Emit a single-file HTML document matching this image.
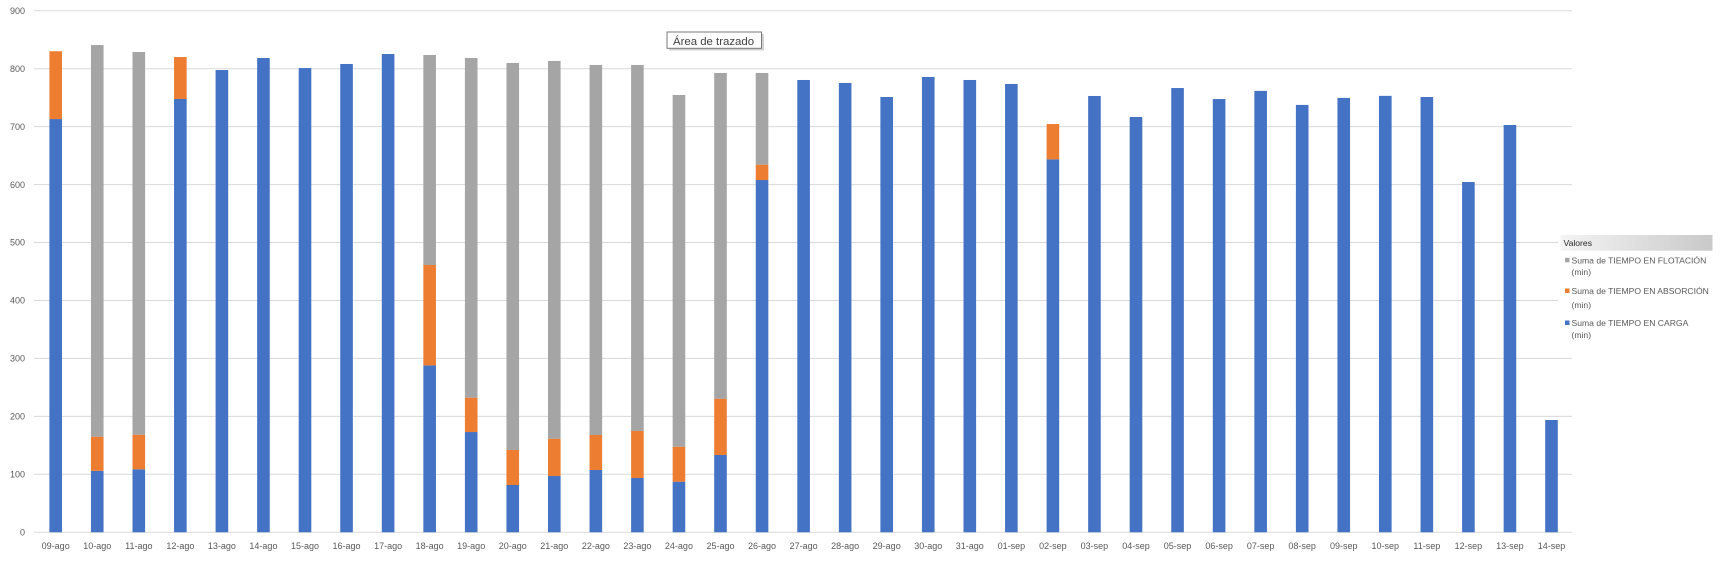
<!DOCTYPE html>
<html>
<head>
<meta charset="utf-8">
<style>
html,body{margin:0;padding:0;background:#fff;}
svg{display:block;}
text{font-family:"Liberation Sans",Arial,sans-serif;}
</style>
</head>
<body>
<svg width="1721" height="565" viewBox="0 0 1721 565" xmlns="http://www.w3.org/2000/svg">
<defs>
<linearGradient id="hdr" x1="0" y1="0" x2="1" y2="0">
<stop offset="0" stop-color="#f4f4f4"/>
<stop offset="1" stop-color="#c9c9c9"/>
</linearGradient>
</defs>
<rect width="1721" height="565" fill="#fff"/>
<!-- gridlines -->
<g stroke="#d9d9d9" stroke-width="1">
<line x1="34" x2="1572" y1="10.7" y2="10.7"/>
<line x1="34" x2="1572" y1="68.7" y2="68.7"/>
<line x1="34" x2="1572" y1="126.6" y2="126.6"/>
<line x1="34" x2="1572" y1="184.6" y2="184.6"/>
<line x1="34" x2="1572" y1="242.5" y2="242.5"/>
<line x1="34" x2="1572" y1="300.5" y2="300.5"/>
<line x1="34" x2="1572" y1="358.4" y2="358.4"/>
<line x1="34" x2="1572" y1="416.4" y2="416.4"/>
<line x1="34" x2="1572" y1="474.3" y2="474.3"/>
<line x1="34" x2="1572" y1="532.3" y2="532.3"/>
</g>
<!-- y labels -->
<g font-size="9" fill="#595959" text-anchor="end">
<text x="25" y="13.9">900</text>
<text x="25" y="71.9">800</text>
<text x="25" y="129.8">700</text>
<text x="25" y="187.8">600</text>
<text x="25" y="245.7">500</text>
<text x="25" y="303.7">400</text>
<text x="25" y="361.6">300</text>
<text x="25" y="419.6">200</text>
<text x="25" y="477.5">100</text>
<text x="25" y="535.5">0</text>
</g>
<!-- bars in data units -->
<g transform="translate(0,532.3) scale(1,-0.5796)">
<!-- 0 09-ago -->
<rect x="49.4" y="0" width="12.6" height="713" fill="#4472c4"/>
<rect x="49.4" y="713" width="12.6" height="117" fill="#ed7d31"/>
<!-- 1 10-ago -->
<rect x="90.95" y="0" width="12.6" height="106" fill="#4472c4"/>
<rect x="90.95" y="106" width="12.6" height="59" fill="#ed7d31"/>
<rect x="90.95" y="165" width="12.6" height="675.7" fill="#a5a5a5"/>
<!-- 2 11-ago -->
<rect x="132.5" y="0" width="12.6" height="108.7" fill="#4472c4"/>
<rect x="132.5" y="108.7" width="12.6" height="59.7" fill="#ed7d31"/>
<rect x="132.5" y="168.4" width="12.6" height="660.3" fill="#a5a5a5"/>
<!-- 3 12-ago -->
<rect x="174.05" y="0" width="12.6" height="747.6" fill="#4472c4"/>
<rect x="174.05" y="747.6" width="12.6" height="72.4" fill="#ed7d31"/>
<!-- 4..8 -->
<rect x="215.6" y="0" width="12.6" height="797.6" fill="#4472c4"/>
<rect x="257.15" y="0" width="12.6" height="818.3" fill="#4472c4"/>
<rect x="298.7" y="0" width="12.6" height="801" fill="#4472c4"/>
<rect x="340.25" y="0" width="12.6" height="808" fill="#4472c4"/>
<rect x="381.8" y="0" width="12.6" height="825.2" fill="#4472c4"/>
<!-- 9 18-ago -->
<rect x="423.35" y="0" width="12.6" height="288" fill="#4472c4"/>
<rect x="423.35" y="288" width="12.6" height="173.2" fill="#ed7d31"/>
<rect x="423.35" y="461.2" width="12.6" height="362.3" fill="#a5a5a5"/>
<!-- 10 19-ago -->
<rect x="464.9" y="0" width="12.6" height="173" fill="#4472c4"/>
<rect x="464.9" y="173" width="12.6" height="59.3" fill="#ed7d31"/>
<rect x="464.9" y="232.3" width="12.6" height="586" fill="#a5a5a5"/>
<!-- 11 20-ago -->
<rect x="506.45" y="0" width="12.6" height="81.6" fill="#4472c4"/>
<rect x="506.45" y="81.6" width="12.6" height="60.4" fill="#ed7d31"/>
<rect x="506.45" y="142" width="12.6" height="667.7" fill="#a5a5a5"/>
<!-- 12 21-ago -->
<rect x="548" y="0" width="12.6" height="97.1" fill="#4472c4"/>
<rect x="548" y="97.1" width="12.6" height="64.4" fill="#ed7d31"/>
<rect x="548" y="161.5" width="12.6" height="651.7" fill="#a5a5a5"/>
<!-- 13 22-ago -->
<rect x="589.55" y="0" width="12.6" height="107.5" fill="#4472c4"/>
<rect x="589.55" y="107.5" width="12.6" height="60.4" fill="#ed7d31"/>
<rect x="589.55" y="167.9" width="12.6" height="638.4" fill="#a5a5a5"/>
<!-- 14 23-ago -->
<rect x="631.1" y="0" width="12.6" height="93.7" fill="#4472c4"/>
<rect x="631.1" y="93.7" width="12.6" height="81.1" fill="#ed7d31"/>
<rect x="631.1" y="174.8" width="12.6" height="631.5" fill="#a5a5a5"/>
<!-- 15 24-ago -->
<rect x="672.65" y="0" width="12.6" height="87.3" fill="#4472c4"/>
<rect x="672.65" y="87.3" width="12.6" height="60.4" fill="#ed7d31"/>
<rect x="672.65" y="147.7" width="12.6" height="606.8" fill="#a5a5a5"/>
<!-- 16 25-ago -->
<rect x="714.2" y="0" width="12.6" height="133.4" fill="#4472c4"/>
<rect x="714.2" y="133.4" width="12.6" height="97.1" fill="#ed7d31"/>
<rect x="714.2" y="230.5" width="12.6" height="562" fill="#a5a5a5"/>
<!-- 17 26-ago -->
<rect x="755.75" y="0" width="12.6" height="607.8" fill="#4472c4"/>
<rect x="755.75" y="607.8" width="12.6" height="26.5" fill="#ed7d31"/>
<rect x="755.75" y="634.3" width="12.6" height="158.2" fill="#a5a5a5"/>
<!-- 18..23 -->
<rect x="797.3" y="0" width="12.6" height="780.4" fill="#4472c4"/>
<rect x="838.85" y="0" width="12.6" height="775.2" fill="#4472c4"/>
<rect x="880.4" y="0" width="12.6" height="751" fill="#4472c4"/>
<rect x="921.95" y="0" width="12.6" height="785.6" fill="#4472c4"/>
<rect x="963.5" y="0" width="12.6" height="780.4" fill="#4472c4"/>
<rect x="1005.05" y="0" width="12.6" height="773.5" fill="#4472c4"/>
<!-- 24 02-sep -->
<rect x="1046.6" y="0" width="12.6" height="643.5" fill="#4472c4"/>
<rect x="1046.6" y="643.5" width="12.6" height="60.9" fill="#ed7d31"/>
<!-- 25..36 -->
<rect x="1088.15" y="0" width="12.6" height="752.8" fill="#4472c4"/>
<rect x="1129.7" y="0" width="12.6" height="716.5" fill="#4472c4"/>
<rect x="1171.25" y="0" width="12.6" height="766.5" fill="#4472c4"/>
<rect x="1212.8" y="0" width="12.6" height="747.5" fill="#4472c4"/>
<rect x="1254.35" y="0" width="12.6" height="761.6" fill="#4472c4"/>
<rect x="1295.9" y="0" width="12.6" height="737.4" fill="#4472c4"/>
<rect x="1337.45" y="0" width="12.6" height="749.5" fill="#4472c4"/>
<rect x="1379" y="0" width="12.6" height="753" fill="#4472c4"/>
<rect x="1420.55" y="0" width="12.6" height="751" fill="#4472c4"/>
<rect x="1462.1" y="0" width="12.6" height="604.4" fill="#4472c4"/>
<rect x="1503.65" y="0" width="12.6" height="702.7" fill="#4472c4"/>
<rect x="1545.2" y="0" width="12.6" height="193.8" fill="#4472c4"/>
</g>
<!-- x labels -->
<g font-size="9" fill="#595959" text-anchor="middle">
<text x="55.7" y="549">09-ago</text>
<text x="97.25" y="549">10-ago</text>
<text x="138.8" y="549">11-ago</text>
<text x="180.35" y="549">12-ago</text>
<text x="221.9" y="549">13-ago</text>
<text x="263.45" y="549">14-ago</text>
<text x="305" y="549">15-ago</text>
<text x="346.55" y="549">16-ago</text>
<text x="388.1" y="549">17-ago</text>
<text x="429.65" y="549">18-ago</text>
<text x="471.2" y="549">19-ago</text>
<text x="512.75" y="549">20-ago</text>
<text x="554.3" y="549">21-ago</text>
<text x="595.85" y="549">22-ago</text>
<text x="637.4" y="549">23-ago</text>
<text x="678.95" y="549">24-ago</text>
<text x="720.5" y="549">25-ago</text>
<text x="762.05" y="549">26-ago</text>
<text x="803.6" y="549">27-ago</text>
<text x="845.15" y="549">28-ago</text>
<text x="886.7" y="549">29-ago</text>
<text x="928.25" y="549">30-ago</text>
<text x="969.8" y="549">31-ago</text>
<text x="1011.35" y="549">01-sep</text>
<text x="1052.9" y="549">02-sep</text>
<text x="1094.45" y="549">03-sep</text>
<text x="1136" y="549">04-sep</text>
<text x="1177.55" y="549">05-sep</text>
<text x="1219.1" y="549">06-sep</text>
<text x="1260.65" y="549">07-sep</text>
<text x="1302.2" y="549">08-sep</text>
<text x="1343.75" y="549">09-sep</text>
<text x="1385.3" y="549">10-sep</text>
<text x="1426.85" y="549">11-sep</text>
<text x="1468.4" y="549">12-sep</text>
<text x="1509.95" y="549">13-sep</text>
<text x="1551.5" y="549">14-sep</text>
</g>
<!-- legend -->
<rect x="1558" y="233" width="163" height="110" fill="#fff"/>
<rect x="1560.5" y="235" width="152" height="15.7" fill="url(#hdr)"/>
<text x="1563.5" y="246" font-size="8.6" fill="#262626">Valores</text>
<rect x="1565" y="257.8" width="4.5" height="4.5" fill="#a5a5a5"/>
<text x="1571.5" y="263.5" font-size="8.6" fill="#595959">Suma de TIEMPO EN FLOTACIÓN</text>
<text x="1571.5" y="274.8" font-size="8.6" fill="#595959">(min)</text>
<rect x="1565" y="288.5" width="4.5" height="4.5" fill="#ed7d31"/>
<text x="1571.5" y="294" font-size="8.6" fill="#595959">Suma de TIEMPO EN ABSORCIÓN</text>
<text x="1571.5" y="308" font-size="8.6" fill="#595959">(min)</text>
<rect x="1565" y="320.5" width="4.5" height="4.5" fill="#4472c4"/>
<text x="1571.5" y="326" font-size="8.6" fill="#595959">Suma de TIEMPO EN CARGA</text>
<text x="1571.5" y="338" font-size="8.6" fill="#595959">(min)</text>
<!-- tooltip -->
<rect x="669" y="34" width="95" height="16.5" fill="#bdbdbd" opacity="0.7"/>
<rect x="667" y="32" width="94.5" height="16.3" fill="#fff" stroke="#7a7a7a" stroke-width="1"/>
<text x="673" y="45" font-size="11.4" fill="#404040">Área de trazado</text>
</svg>
</body>
</html>
